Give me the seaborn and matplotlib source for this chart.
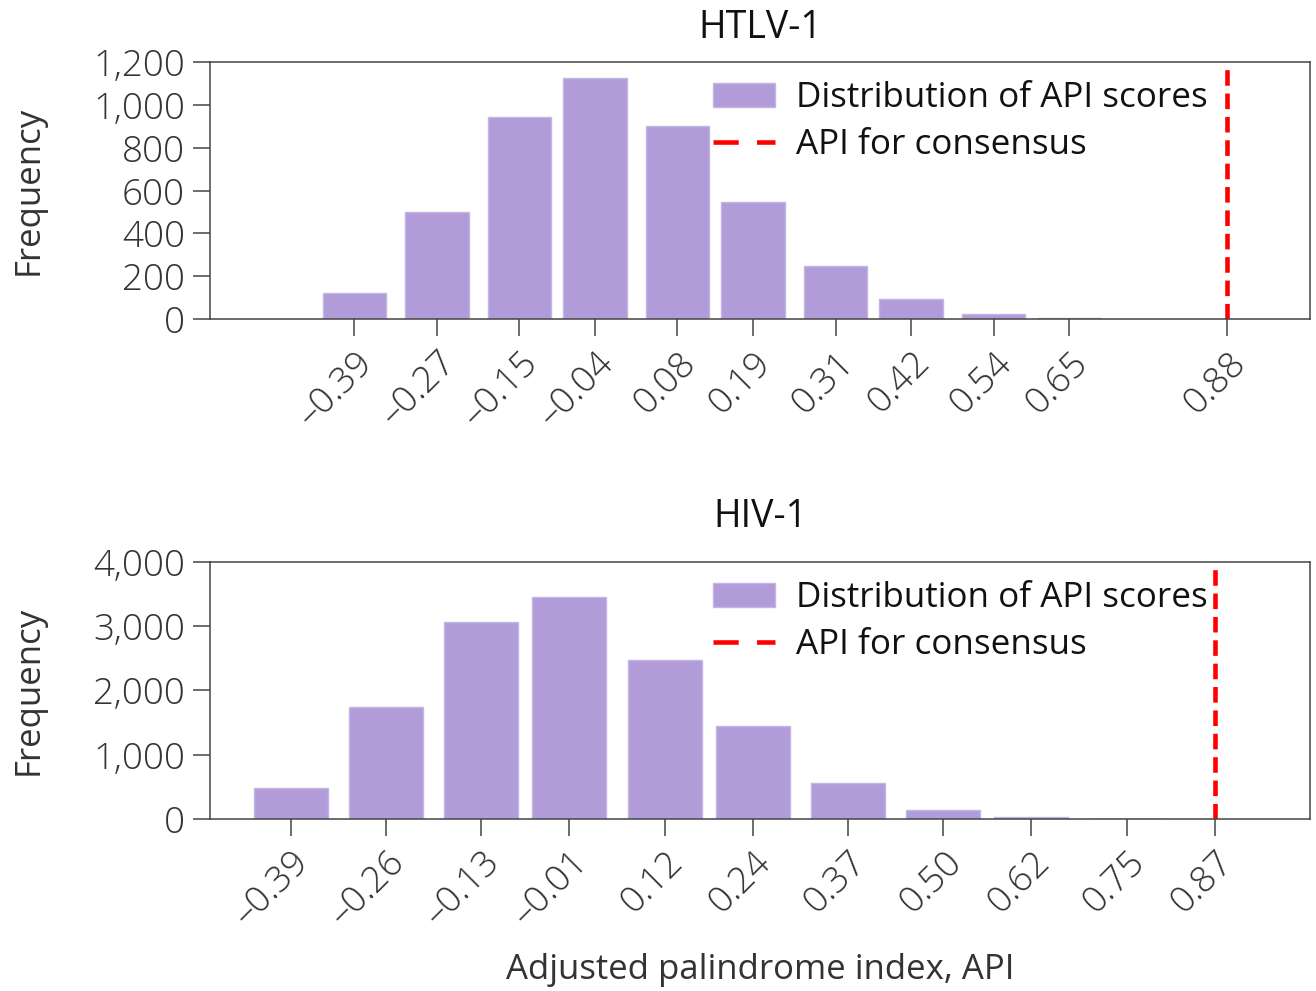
import numpy as np
import pandas as pd
import seaborn as sns
import matplotlib.pyplot as plt
from matplotlib.patches import Patch
from matplotlib.lines import Line2D

# HTLV-1 histogram (bin centres, counts) and consensus API
htlv_centers = [-0.39, -0.27, -0.15, -0.04, 0.08, 0.19, 0.31, 0.42, 0.54, 0.65]
htlv_counts = [120, 498, 943, 1125, 901, 546, 249, 92, 25, 4]
htlv_consensus = 0.88
htlv_ticks = htlv_centers + [htlv_consensus]

# HIV-1 histogram
hiv_centers = [-0.39, -0.26, -0.13, -0.01, 0.12, 0.24, 0.37, 0.50, 0.62, 0.75]
hiv_counts = [482, 1738, 3066, 3455, 2475, 1447, 565, 145, 25, 4]
hiv_consensus = 0.87
hiv_ticks = hiv_centers + [hiv_consensus]

sns.set_theme(style="ticks")
plt.rcParams['font.family'] = ['Open Sans', 'DejaVu Sans']
plt.rcParams['font.weight'] = 'light'

bar_color = '#b19cd9'
ink = '#333333'

fig = plt.figure(figsize=(13.16, 9.91), dpi=100)
ax1 = fig.add_axes([0.1596, 0.678, 0.8358, 0.2594])
ax2 = fig.add_axes([0.1596, 0.1736, 0.8358, 0.2594])


def fmt(v):
    s = f"{abs(v):.2f}"
    return ("\u2013" + s) if v < 0 else s


def draw(ax, centers, counts, consensus, ticks, title, title_pad, ymax, yticks, xlim):
    df = pd.DataFrame({'api': centers, 'freq': counts})
    sns.barplot(data=df, x='api', y='freq', native_scale=True, width=0.84,
                color=bar_color, saturation=1, errorbar=None,
                edgecolor='#c4b5e4', linewidth=1, ax=ax)
    ax.axvline(consensus, color='#ff0000', lw=3.3, dashes=(3.4, 1.7))
    ax.set_xlim(*xlim)
    ax.set_ylim(0, ymax)
    ax.set_xticks(ticks)
    ax.set_xticklabels([fmt(t) for t in ticks], rotation=45, ha='right',
                       rotation_mode='anchor', fontsize=26.5, color=ink)
    ax.set_yticks(yticks)
    ax.set_yticklabels([f"{v:,}" for v in yticks], fontsize=26.5, color=ink)
    ax.tick_params(axis='both', length=12, width=1.1, color='#444444', pad=6)
    ax.set_xlabel('')
    ax.set_ylabel('Frequency', fontsize=25, color=ink, labelpad=34)
    ax.set_title(title, fontsize=27, color='#111111', pad=title_pad,
                 fontweight='normal')
    for sp in ax.spines.values():
        sp.set_visible(True)
        sp.set_color('#444444')
        sp.set_linewidth(1.1)
    handles = [Patch(facecolor=bar_color, edgecolor='#c4b5e4'),
               Line2D([0], [0], color='#ff0000', lw=3.3, dashes=(5.5, 4))]
    leg = ax.legend(handles, ['Distribution of API scores', 'API for consensus'],
                    loc='upper right', bbox_to_anchor=(0.929, 1.02), frameon=False,
                    prop={'size': 25.2, 'weight': 'normal'},
                    handlelength=1.75, handletextpad=0.6,
                    labelspacing=0.36, borderpad=0.2)
    for t in leg.get_texts():
        t.set_color('#111111')


draw(ax1, htlv_centers, htlv_counts, htlv_consensus, htlv_ticks, 'HTLV-1', 17,
     1200, [0, 200, 400, 600, 800, 1000, 1200], (-0.60, 1.0))
draw(ax2, hiv_centers, hiv_counts, hiv_consensus, hiv_ticks, 'HIV-1', 25,
     4000, [0, 1000, 2000, 3000, 4000], (-0.50, 1.0))
ax2.set_xlabel('Adjusted palindrome index, API', fontsize=25, color=ink, labelpad=14)

fig.savefig('out.png', dpi=100)
